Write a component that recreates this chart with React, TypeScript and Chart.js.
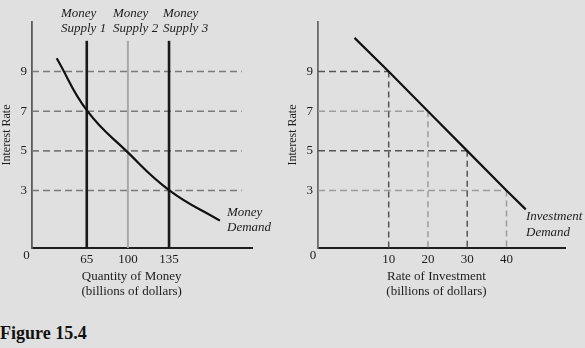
import React, { useEffect, useRef } from "react";
import { Chart, registerables } from "chart.js";

Chart.register(...registerables);

// ---------- data ----------
const RATE_TICKS = [3, 5, 7, 9];

const MONEY_TICKS = [65, 100, 135];
const MONEY_SUPPLY = [65, 100, 135];
const MONEY_SUPPLY_TOP = 10.55;
const MONEY_SUPPLY_NAMES = [
  ["Money", "Supply 1"],
  ["Money", "Supply 2"],
  ["Money", "Supply 3"],
];
// money demand curve
const MONEY_DEMAND_QTY = [39.4, 65.6, 98.6, 135.6, 178.3];
const MONEY_DEMAND_RATE = [9.67, 7, 5, 3, 1.48];
const MONEY_DASH_END = 196.8;

const INVEST_TICKS = [10, 20, 30, 40];
const INVEST_DEMAND_QTY = [1.3, 10, 20, 30, 40, 44.9];
const INVEST_DEMAND_RATE = [10.7, 9, 7, 5, 3, 2.05];
const INVEST_GUIDE_QTY = [10, 20, 30, 40];
const INVEST_GUIDE_RATE = [9, 7, 5, 3];

// ---------- scale ranges / styles ----------
const Y_RANGE = { min: 0.1, max: 11.5 };
const LEFT_X = { min: 18.4, max: 205.6 };
const RIGHT_X = { min: -8, max: 54.9 };
const SUPPLY_COLORS = ["#1a1a1a", "#a8a8a8", "#1a1a1a"];
const SUPPLY_WIDTHS = [2.6, 2, 2.6];
const GUIDE_COLORS = ["#555555", "#9c9c9c", "#555555", "#9c9c9c"];
const SERIF = "'Liberation Serif', 'Times New Roman', serif";
const TEXT = "#1c1c1c";

type TextItem = {
  lines: string[];
  x: number;
  y: number;
  lh: number;
  font: string;
  align: CanvasTextAlign;
};

function makeTextPlugin(items: TextItem[]) {
  return {
    id: "texts",
    afterDraw(chart: any) {
      const ctx = chart.ctx as CanvasRenderingContext2D;
      ctx.save();
      ctx.fillStyle = TEXT;
      ctx.textBaseline = "middle";
      for (const it of items) {
        ctx.font = it.font;
        ctx.textAlign = it.align;
        it.lines.forEach((l, i) => ctx.fillText(l, it.x, it.y + i * it.lh));
      }
      ctx.restore();
    },
  };
}

function yScale(width: number, titlePad: number, borderColor: string) {
  return {
    type: "linear",
    min: Y_RANGE.min,
    max: Y_RANGE.max,
    afterBuildTicks: (s: any) => {
      s.ticks = RATE_TICKS.map((v) => ({ value: v }));
    },
    afterFit: (s: any) => {
      s.width = width;
    },
    grid: { display: false, drawTicks: false },
    border: { display: true, color: borderColor, width: 1.8 },
    ticks: {
      padding: 5,
      color: TEXT,
      font: { family: SERIF, size: 13 },
      autoSkip: false,
    },
    title: {
      display: true,
      text: "Interest Rate",
      color: TEXT,
      font: { family: SERIF, size: 12 },
      padding: { top: titlePad, bottom: 0 },
    },
  };
}

function xScale(range: { min: number; max: number }, tickVals: number[]) {
  return {
    type: "linear",
    min: range.min,
    max: range.max,
    afterBuildTicks: (s: any) => {
      s.ticks = tickVals.map((v) => ({ value: v }));
    },
    afterFit: (s: any) => {
      s.height = 62;
    },
    grid: { display: false, drawTicks: false },
    border: { display: true, color: "#1e1e1e", width: 2 },
    ticks: {
      padding: 4,
      color: TEXT,
      font: { family: SERIF, size: 13 },
      autoSkip: false,
      maxRotation: 0,
    },
  };
}

const lineBase = {
  pointRadius: 0,
  pointHoverRadius: 0,
  fill: false,
};

export default function App() {
  const leftRef = useRef<HTMLCanvasElement>(null);
  const rightRef = useRef<HTMLCanvasElement>(null);

  useEffect(() => {
    const italic = `italic 13px ${SERIF}`;
    const plain = `13px ${SERIF}`;

    // ---------- left chart ----------
    const leftDatasets: any[] = [];
    leftDatasets.push({
      ...lineBase,
      data: MONEY_DEMAND_QTY.map((x, i) => ({ x, y: MONEY_DEMAND_RATE[i] })),
      borderColor: "#111111",
      borderWidth: 2.2,
      tension: 0.45,
    });
    MONEY_SUPPLY.forEach((q, i) => {
      leftDatasets.push({
        ...lineBase,
        data: [
          { x: q, y: Y_RANGE.min },
          { x: q, y: MONEY_SUPPLY_TOP },
        ],
        borderColor: SUPPLY_COLORS[i],
        borderWidth: SUPPLY_WIDTHS[i],
      });
    });
    RATE_TICKS.forEach((r) => {
      leftDatasets.push({
        ...lineBase,
        data: [
          { x: LEFT_X.min, y: r },
          { x: MONEY_DASH_END, y: r },
        ],
        borderColor: "#7a7a7a",
        borderWidth: 1.6,
        borderDash: [7, 4],
      });
    });

    const leftTexts: TextItem[] = [
      { lines: MONEY_SUPPLY_NAMES[0], x: 61, y: 14, lh: 15, font: italic, align: "left" },
      { lines: MONEY_SUPPLY_NAMES[1], x: 113, y: 14, lh: 15, font: italic, align: "left" },
      { lines: MONEY_SUPPLY_NAMES[2], x: 163, y: 14, lh: 15, font: italic, align: "left" },
      { lines: ["Money", "Demand"], x: 227, y: 213, lh: 15, font: italic, align: "left" },
      { lines: ["Quantity of Money", "(billions of dollars)"], x: 131.7, y: 277, lh: 15, font: plain, align: "center" },
      { lines: ["0"], x: 26.5, y: 255.5, lh: 15, font: plain, align: "center" },
    ];

    const left = new Chart(leftRef.current!, {
      type: "line",
      data: { datasets: leftDatasets },
      options: {
        animation: false,
        responsive: false,
        maintainAspectRatio: false,
        devicePixelRatio: 1,
        layout: { padding: { top: 22, right: 38, left: 0, bottom: 0 } },
        plugins: { legend: { display: false }, tooltip: { enabled: false } },
        scales: {
          x: xScale(LEFT_X, MONEY_TICKS) as any,
          y: yScale(32, 0, "#5a5a5a") as any,
        },
      },
      plugins: [makeTextPlugin(leftTexts)],
    });

    // ---------- right chart ----------
    const rightDatasets: any[] = [];
    rightDatasets.push({
      ...lineBase,
      data: INVEST_DEMAND_QTY.map((x, i) => ({ x, y: INVEST_DEMAND_RATE[i] })),
      borderColor: "#111111",
      borderWidth: 2.2,
    });
    INVEST_GUIDE_QTY.forEach((q, i) => {
      const r = INVEST_GUIDE_RATE[i];
      rightDatasets.push({
        ...lineBase,
        data: [
          { x: RIGHT_X.min, y: r },
          { x: q, y: r },
        ],
        borderColor: GUIDE_COLORS[i],
        borderWidth: 1.5,
        borderDash: [7, 4],
      });
      rightDatasets.push({
        ...lineBase,
        data: [
          { x: q, y: r },
          { x: q, y: Y_RANGE.min },
        ],
        borderColor: GUIDE_COLORS[i],
        borderWidth: 1.5,
        borderDash: [6, 4],
      });
    });

    const rightTexts: TextItem[] = [
      { lines: ["Investment", "Demand"], x: 246, y: 217, lh: 16, font: italic, align: "left" },
      { lines: ["Rate of Investment", "(billions of dollars)"], x: 156.5, y: 277, lh: 15, font: plain, align: "center" },
      { lines: ["0"], x: 33, y: 256, lh: 15, font: plain, align: "center" },
    ];

    const right = new Chart(rightRef.current!, {
      type: "line",
      data: { datasets: rightDatasets },
      options: {
        animation: false,
        responsive: false,
        maintainAspectRatio: false,
        devicePixelRatio: 1,
        layout: { padding: { top: 22, right: 20, left: 0, bottom: 0 } },
        plugins: { legend: { display: false }, tooltip: { enabled: false } },
        scales: {
          x: xScale(RIGHT_X, INVEST_TICKS) as any,
          y: yScale(38, 5.3, "#6a6a6a") as any,
        },
      },
      plugins: [makeTextPlugin(rightTexts)],
    });

    return () => {
      left.destroy();
      right.destroy();
    };
  }, []);

  return (
    <div
      style={{
        position: "absolute",
        left: 0,
        top: 0,
        width: 585,
        height: 348,
        background: "#e0e0e0",
        overflow: "hidden",
      }}
    >
      <canvas
        ref={leftRef}
        width={290}
        height={310}
        style={{ position: "absolute", left: 0, top: 0, width: 290, height: 310 }}
      />
      <canvas
        ref={rightRef}
        width={305}
        height={310}
        style={{ position: "absolute", left: 280, top: 0, width: 305, height: 310 }}
      />
      <div
        style={{
          position: "absolute",
          left: 0,
          top: 324,
          font: `bold 18px ${SERIF}`,
          lineHeight: "18px",
          color: "#111111",
          whiteSpace: "nowrap",
        }}
      >
        Figure 15.4
      </div>
    </div>
  );
}
